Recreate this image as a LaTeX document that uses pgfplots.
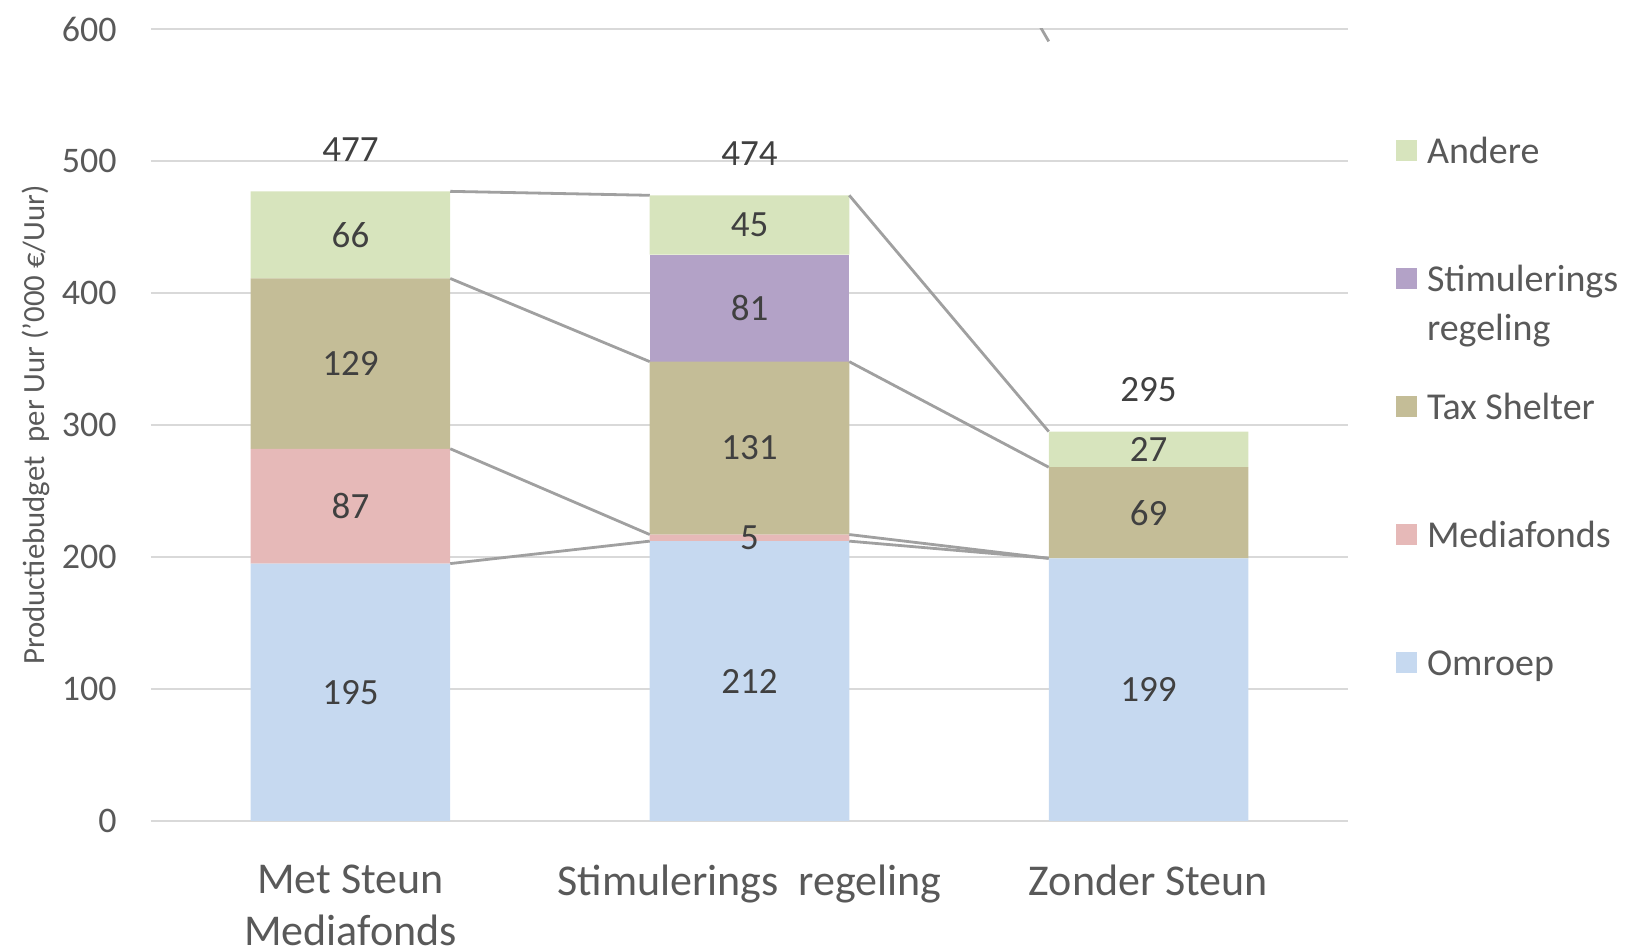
\documentclass[border=0pt]{standalone}
\usepackage{fontspec}
\setmainfont{Carlito}
\usepackage{pgfplots}
\pgfplotsset{compat=1.18}
\definecolor{cOmroep}{RGB}{198,217,240}
\definecolor{cMedia}{RGB}{230,185,184}
\definecolor{cTax}{RGB}{196,189,151}
\definecolor{cStim}{RGB}{179,162,199}
\definecolor{cAndere}{RGB}{215,228,189}
\definecolor{cGrid}{RGB}{217,217,217}
\definecolor{cTick}{RGB}{89,89,89}
\definecolor{cLab}{RGB}{64,64,64}
\definecolor{cLine}{RGB}{160,160,160}
\pgfplotsset{sq legend/.style={legend image code/.code={\fill[##1] (0pt,0.9pt) rectangle (10.5pt,11.4pt);}}}
\begin{document}
\begin{tikzpicture}
\useasboundingbox (-75.5pt,-65pt) rectangle (739.5pt,410.5pt);
\begin{axis}[
  name=main, at={(0,0)}, anchor=south west,
  scale only axis, width=598.5pt, height=396pt,
  ybar stacked, bar width=0.5,
  xmin=-0.5, xmax=2.5, ymin=0, ymax=600,
  xtick={0,1,2},
  xticklabels={{Met Steun\\Mediafonds},{Stimulerings~ regeling},{Zonder Steun}},
  ytick={0,100,...,600},
  axis line style={draw=none},
  major tick length=0pt,
  ymajorgrids, grid style={cGrid, line width=1.2pt},
  /pgf/number format/assume math mode=true,
  yticklabel style={font=\fontsize{18}{21}\selectfont, text=cTick, inner sep=0pt, xshift=-17pt, anchor=east},
  xticklabel style={font=\fontsize{22}{26}\selectfont, text=cTick, align=center, inner sep=0pt, anchor=north, yshift=-22pt},
  ylabel={Productiebudget~ per Uur ('000 €/Uur)},
  ylabel style={font=\fontsize{15.4}{18}\selectfont, text=cTick, at={(axis description cs:-0.0961,0.5)}, anchor=center},
  legend style={draw=none, fill=none, at={(1.0401,0.866)}, anchor=north west, inner sep=0pt, outer sep=0pt, row sep=0pt, column sep=5pt,
     nodes={inner sep=0pt, outer sep=0pt, text height=14pt, text depth=50pt, font=\fontsize{19}{24.5}\selectfont, text=cTick, anchor=base west}},
  legend cell align=left,
  reverse legend,
]
\addplot[fill=cOmroep, draw=none, sq legend] coordinates {(0,195) (1,212) (2,199)};
\addplot[fill=cMedia, draw=none, sq legend] coordinates {(0,87) (1,5) (2,0)};
\addplot[fill=cTax, draw=none, sq legend] coordinates {(0,129) (1,131) (2,69)};
\addplot[fill=cStim, draw=none, sq legend] coordinates {(0,0) (1,81) (2,0)};
\addplot[fill=cAndere, draw=none, sq legend] coordinates {(0,66) (1,45) (2,27)};
\legend{Omroep, Mediafonds, Tax Shelter, {\begin{tabular}[t]{@{}l@{}}Stimulerings\\regeling\end{tabular}}, Andere}
\end{axis}
\begin{axis}[
  at={(0,0)}, anchor=south west,
  scale only axis, width=598.5pt, height=396pt,
  xmin=-0.5, xmax=2.5, ymin=0, ymax=600,
  hide axis, clip=true,
]
% series lines
\addplot[cLine, line width=1.4pt] coordinates {(0.25,195) (0.75,212)};
\addplot[cLine, line width=1.4pt] coordinates {(1.25,212) (1.75,199)};
\addplot[cLine, line width=1.4pt] coordinates {(0.25,282) (0.75,217)};
\addplot[cLine, line width=1.4pt] coordinates {(1.25,217) (1.75,199)};
\addplot[cLine, line width=1.4pt] coordinates {(0.25,411) (0.75,348)};
\addplot[cLine, line width=1.4pt] coordinates {(1.25,348) (1.75,268)};
\addplot[cLine, line width=1.4pt] coordinates {(0.25,477) (0.75,474)};
\addplot[cLine, line width=1.4pt] coordinates {(1.25,474) (1.75,295)};
\addplot[cLine, line width=1.4pt] coordinates {(1.714,609.4) (1.75,590.6)};
% segment labels
\addplot[draw=none, mark=none, nodes near coords, point meta=explicit symbolic,
  nodes near coords style={font=\fontsize{18.5}{21}\selectfont, text=cLab, anchor=center, inner sep=0pt}]
  coordinates {(0,97.5) [195] (0,238.5) [87] (0,346.5) [129] (0,444) [66]
               (1,106) [212] (1,214.5) [5] (1,282.5) [131] (1,388.5) [81] (1,451.5) [45]
               (2,99.5) [199] (2,233.5) [69] (2,281.5) [27]};
% totals
\addplot[draw=none, mark=none, nodes near coords, point meta=explicit symbolic,
  nodes near coords style={font=\fontsize{18.5}{21}\selectfont, text=cLab, anchor=center, inner sep=0pt, yshift=20.8pt}]
  coordinates {(0,477) [477] (1,474) [474] (2,295) [295]};
\end{axis}
\end{tikzpicture}
\end{document}
